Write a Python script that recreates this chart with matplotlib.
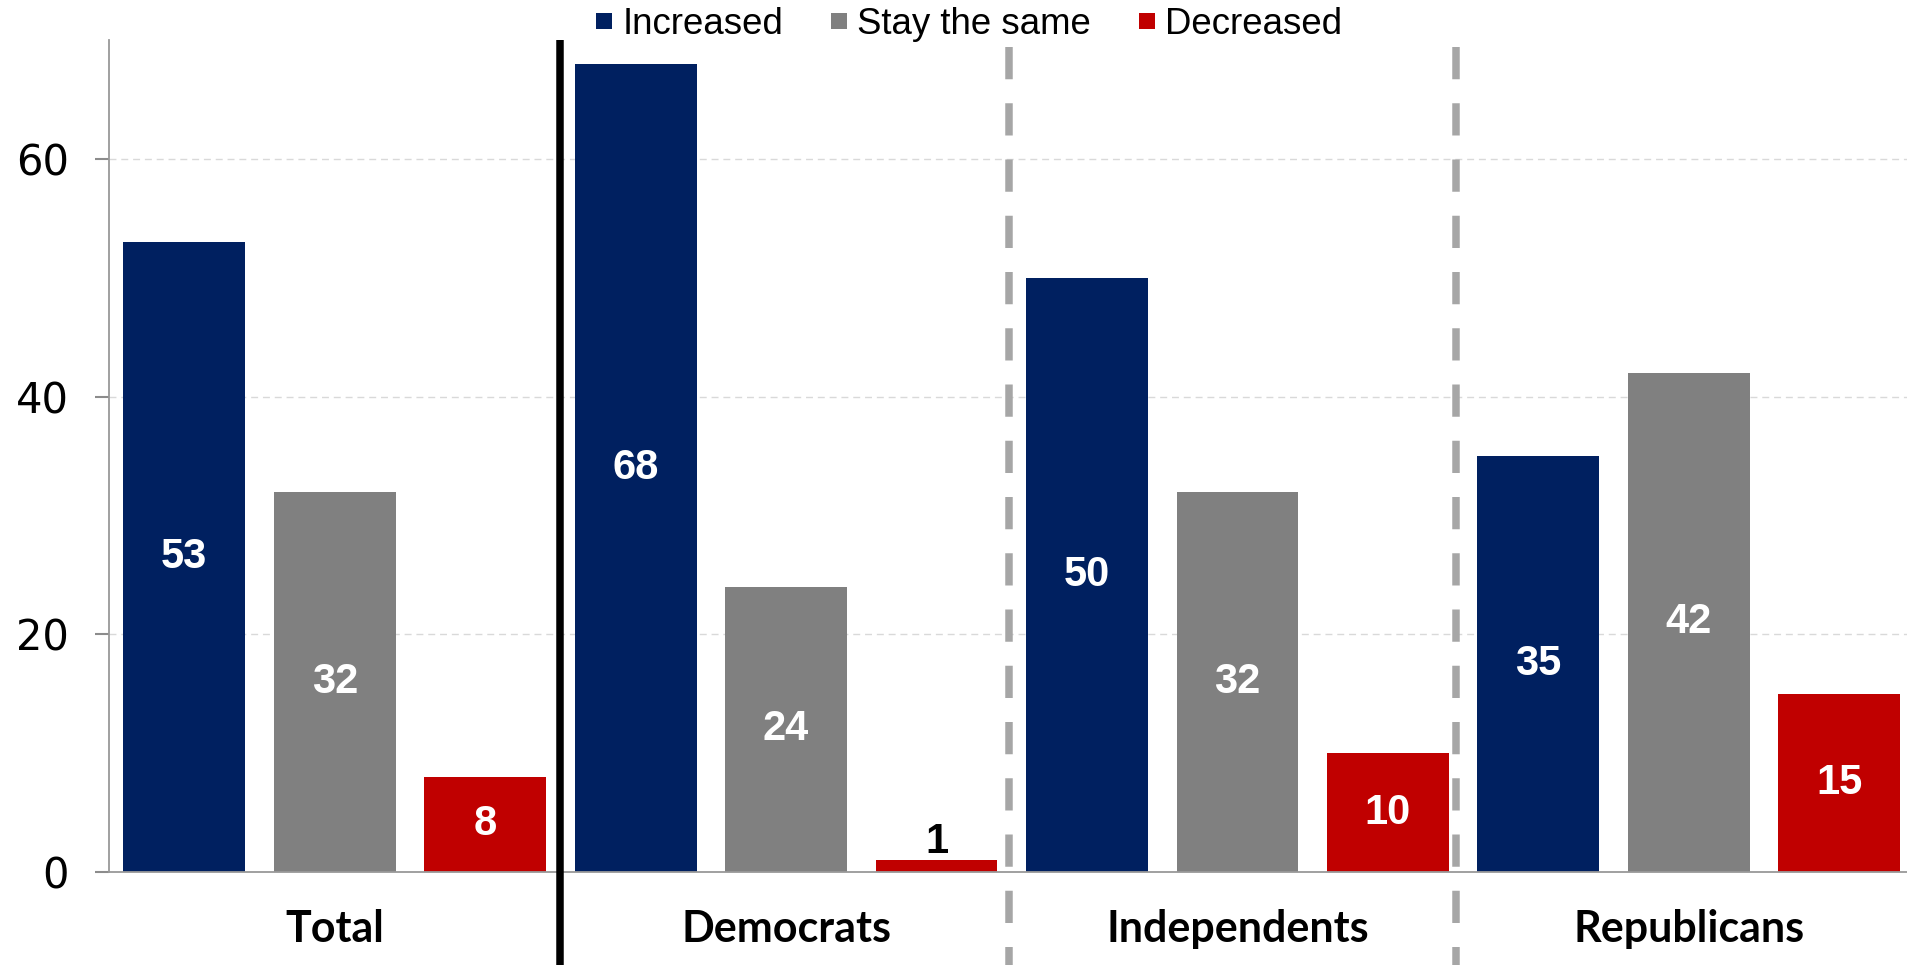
import matplotlib
matplotlib.use("Agg")
import matplotlib.pyplot as plt
from matplotlib.lines import Line2D

# Survey groups and answers
categories = ["Total", "Democrats", "Independents", "Republicans"]
series_names = ["Increased", "Stay the same", "Decreased"]
increased = [53, 68, 50, 35]
stay_same = [32, 24, 32, 42]
decreased = [8, 1, 10, 15]
yticks = [0, 20, 40, 60]

series = [increased, stay_same, decreased]
colors = ["#002060", "#808080", "#C00000"]

W, H = 1907, 965
fig = plt.figure(figsize=(W / 100, H / 100), dpi=100)
ax = fig.add_axes([109 / W, (H - 872) / H, 1 - 109 / W, (872 - 40) / H])

n_series = len(series)
bar_width = 0.81
for s, vals in enumerate(series):
    xs = [g * n_series + s for g in range(len(categories))]
    ax.bar(xs, vals, width=bar_width, color=colors[s], zorder=2)
    for x, v in zip(xs, vals):
        if v >= 5:
            ax.text(x, v / 2, str(v), ha="center", va="center", color="white",
                    fontsize=30, fontweight="bold", family="Liberation Sans", zorder=4)
        else:
            ax.annotate(str(v), (x, v), xytext=(0, 5), textcoords="offset points",
                        ha="center", va="baseline", color="black",
                        fontsize=30, fontweight="bold", family="Liberation Sans", zorder=4)

ax.set_xlim(-0.5, n_series * len(categories) - 0.55)
ax.set_ylim(0, 70)
ax.set_yticks(yticks)
ax.set_xticks([])
ax.tick_params(axis="y", length=10, width=1.5, color="#8c8c8c", pad=19, labelsize=30)
for lbl in ax.get_yticklabels():
    lbl.set_fontfamily("DejaVu Sans")

for side in ["top", "right"]:
    ax.spines[side].set_visible(False)
for side in ["left", "bottom"]:
    ax.spines[side].set_color("#999999")
    ax.spines[side].set_linewidth(1.3)

ax.yaxis.grid(True, color="#d9d9d9", linestyle=(0, (5, 3.5)), linewidth=1.0)
ax.set_axisbelow(True)

# Group names below the baseline
for g, name in enumerate(categories):
    ax.text(g * n_series + (n_series - 1) / 2, -5.9, name, ha="center", va="baseline",
            fontsize=31, fontweight="bold", family="Lato", clip_on=False)

# Separators between groups
ax.plot([2.5, 2.5], [70, -8], color="black", lw=5.4, solid_capstyle="butt",
        clip_on=False, zorder=3)
for xsep in [5.48, 8.45]:
    ax.plot([xsep, xsep], [69.4, -8], color="#a6a6a6", lw=5.4,
            linestyle=(0, (4.3, 3.2)), dash_capstyle="butt", clip_on=False, zorder=3)

handles = [Line2D([], [], marker="s", markersize=11.5, color=c, linestyle="None",
                  markeredgewidth=0) for c in colors]
fig.legend(handles, series_names, loc="center", bbox_to_anchor=(969 / W, 1 - 24 / H),
           ncol=3, frameon=False, prop={"family": "Liberation Sans", "size": 26.4},
           handlelength=0.44, handletextpad=0.28, columnspacing=1.3,
           borderpad=0, borderaxespad=0)

fig.savefig("out.png", dpi=100)
